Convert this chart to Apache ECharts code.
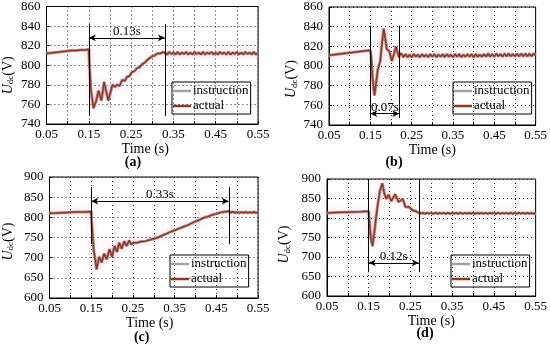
<!DOCTYPE html>
<html>
<head>
<meta charset="utf-8">
<script src="https://cdn.jsdelivr.net/npm/echarts@6/dist/echarts.min.js"></script>
<style>
html,body{margin:0;padding:0;background:#fff;}
#chart{width:550px;height:345px;}
</style>
</head>
<body>
<div id="chart"></div>
<script>
// ---------- data ----------
const xTickLabels = ['0.05','0.15','0.25','0.35','0.45','0.55'];
const yTicksAB = [740, 860, 20];   // min, max, step
const yTicksCD = [600, 900, 50];

const timeA = [0.05,0.06,0.07,0.08,0.09,0.10,0.11,0.12,0.13,0.14,0.15,
  0.151,0.155,0.161,0.167,0.173,0.180,0.186,0.196,0.206,
  0.212,0.217,0.223,0.229,0.235,0.240,0.246,0.252,0.258,0.264,
  0.270,0.276,0.283,0.290,0.299,0.306,0.312,0.319,0.326,0.330,
  0.335,0.340,0.345,0.350,0.355,0.360,0.365,0.370,0.375,0.380,
  0.385,0.390,0.395,0.400,0.405,0.410,0.415,0.420,0.425,0.430,
  0.435,0.440,0.445,0.450,0.455,0.460,0.465,0.470,0.475,0.480,
  0.485,0.490,0.495,0.500,0.505,0.510,0.515,0.520,0.525,0.530,
  0.535,0.540,0.545,0.550];
const actualA = [812,812.5,813,813.5,814,814.5,815,815,815.5,815.5,816,
  805,775,756,763,774,764,783,764,780,
  778,780,779,785,784,788,789,793,794,797,
  798,801,803,806,809,810,812,812,813.5,813,
  811,813.5,811.5,813,811,813.5,811,813,811.5,813.5,
  811,813,811,813.5,811.5,813,811,813.5,811,813,
  811.5,813.5,811,813,811,813.5,811.5,813,811,813.5,
  811,813,811.5,813.5,811,813,811,813.5,811.5,813,
  811,813.5,811,812.5];
const instructionA = actualA;

const timeB = [0.05,0.06,0.07,0.08,0.09,0.10,0.11,0.12,0.13,0.14,0.15,
  0.152,0.156,0.160,0.164,0.168,0.174,0.178,0.1825,0.186,
  0.190,0.196,0.202,0.207,0.212,0.219,0.224,0.230,
  0.235,0.240,0.245,0.250,0.255,0.260,0.265,0.270,0.275,0.280,
  0.285,0.290,0.295,0.300,0.305,0.310,0.315,0.320,0.325,0.330,
  0.335,0.340,0.345,0.350,0.355,0.360,0.365,0.370,0.375,0.380,
  0.385,0.390,0.395,0.400,0.405,0.410,0.415,0.420,0.425,0.430,
  0.435,0.440,0.445,0.450,0.455,0.460,0.465,0.470,0.475,0.480,
  0.485,0.490,0.495,0.500,0.505,0.510,0.515,0.520,0.525,0.530,
  0.535,0.540,0.545,0.550];
const actualB = [811,811.5,812,812.5,813,813.5,814,814.5,815,815.5,816,
  810,785,770,783,796,805,822,838,828,
  817,815,805,812,820,809,813,809,
  812,809,811.5,809,812,809.5,811.5,809,812,809.5,
  811.5,809,812,809.5,812,809,811.5,809.5,812,809,
  812,809.5,811.5,809,812,809.5,812,809,811.5,809.5,
  812,809.5,812,809,812,809.5,811.5,809.5,812,809.5,
  812.5,809.5,812,809.5,812.5,810,812,809.5,812.5,810,
  812.5,810,812,810,812.5,810,812.5,810,812.5,810,
  812.5,810,812.5,811];
const instructionB = actualB;

const timeC = [0.05,0.07,0.09,0.11,0.13,0.15,
  0.151,0.156,0.163,0.169,0.175,0.181,0.187,0.194,0.200,0.206,
  0.212,0.217,0.223,0.229,0.235,0.241,0.246,0.252,0.260,0.270,
  0.280,0.290,0.300,0.310,0.320,0.330,0.340,0.350,0.360,0.370,
  0.380,0.390,0.400,0.410,0.420,0.430,0.440,0.450,0.460,0.470,
  0.480,
  0.485,0.490,0.495,0.500,0.505,0.510,0.515,0.520,0.525,0.530,
  0.535,0.540,0.545,0.550];
const actualC = [810,811,812,813,813.5,814,
  790,720,671,702,688,710,696,721,702,729,
  714,737,722,741,729,743,733,737,737,740,
  741,744,747,750,755,759,764,768,772,776,
  780,785,790,794,799,802,806,809,812,814,
  815,
  812,814,811,813.5,811,813,811,813.5,811,813,
  811,813.5,811,812.5];
const instructionC = actualC;

const timeD = [0.05,0.07,0.09,0.11,0.13,0.15,
  0.151,0.155,0.159,0.1645,0.168,0.172,0.177,0.1827,0.1875,0.1922,
  0.1976,0.204,0.2135,0.2213,0.2316,0.238,0.247,0.255,0.261,0.267,
  0.275,
  0.280,0.285,0.290,0.295,0.300,0.305,0.310,0.315,0.320,0.325,
  0.330,0.335,0.340,0.345,0.350,0.355,0.360,0.365,0.370,0.375,
  0.380,0.385,0.390,0.395,0.400,0.405,0.410,0.415,0.420,0.425,
  0.430,0.435,0.440,0.445,0.450,0.455,0.460,0.465,0.470,0.475,
  0.480,0.485,0.490,0.495,0.500,0.505,0.510,0.515,0.520,0.525,
  0.530,0.535,0.540,0.545,0.550];
const actualD = [813,814,815,815.5,816,817,
  800,750,728,773,805,837,870,889,862,849,
  860,843,861,841,849,828,828,820,818,815,
  812,
  813,811,813,811.5,813,811,813.5,811,813,811.5,
  813,811,813.5,811,813,811.5,813,811,813.5,811,
  813,811.5,813,811,813.5,811,813,811.5,813,811,
  813.5,811,813,811.5,813,811,813.5,811,813,811.5,
  813,811,813.5,811,813,811.5,813,811,813.5,811,
  813,811.5,813,811,812.5];
const instructionD = actualD;

// annotation: [x start, x end], [line bottom, line top, arrow level], text
const markXA = [0.15, 0.33], markYA = [748, 842, 828], durA = '0.13s';
const markXB = [0.15, 0.22], markYB = [747, 841, 751.5], durB = '0.07s';
const markXC = [0.15, 0.48], markYC = [734, 875, 840], durC = '0.33s';
const markXD = [0.15, 0.27], markYD = [661, 900, 685], durD = '0.12s';

const captions = ['(a)', '(b)', '(c)', '(d)'];

// ---------- layout ----------
const FONT = "'Liberation Serif', 'Times New Roman', serif";
const grids = [
  {left: 43, top: 6, width: 215, height: 118},
  {left: 329, top: 7, width: 208, height: 118},
  {left: 43, top: 177, width: 215, height: 121},
  {left: 327, top: 179, width: 211, height: 117}
];
const yNameGap = [31, 30, 34, 35];
const yNameShift = [20, 26, 8, 14];
const xNameShift = [14, 0, 8, 0];
const legendPos = [[172, 82], [453, 82], [170, 255], [451, 255]];
const capPos = [[133, 162], [394, 162.7], [141.7, 337.7], [425, 333.7]];

const panels = [
  [timeA, instructionA, actualA, markXA, markYA, durA, yTicksAB],
  [timeB, instructionB, actualB, markXB, markYB, durB, yTicksAB],
  [timeC, instructionC, actualC, markXC, markYC, durC, yTicksCD],
  [timeD, instructionD, actualD, markXD, markYD, durD, yTicksCD]
];

const zip = (t, v) => t.map((x, i) => [x, v[i]]);

const option = {
  animation: false,
  textStyle: {fontFamily: FONT, color: '#000'},
  grid: grids.map(g => Object.assign({show: true, borderColor: '#000', borderWidth: 1, containLabel: false}, g)),
  xAxis: [], yAxis: [], series: [], legend: [], graphic: []
};

panels.forEach((p, i) => {
  const [time, instr, act, mx, my, dur, yt] = p;
  option.xAxis.push({
    type: 'value', gridIndex: i, min: 0.05, max: 0.55, interval: 0.05,
    name: 'Time (s)', nameLocation: 'middle', nameGap: 15,
    nameTextStyle: {fontFamily: FONT, fontSize: 14, color: '#000', padding: [0, xNameShift[i], 0, 0]},
    axisLine: {show: true, onZero: false, lineStyle: {color: '#000', width: 1}},
    axisTick: {show: true, inside: true, length: 3, lineStyle: {color: '#000'}},
    axisLabel: {
      color: '#000', fontFamily: FONT, fontSize: 13, margin: 4, showMinLabel: true, showMaxLabel: true,
      formatter: v => { const s = v.toFixed(2); return xTickLabels.includes(s) ? s : ''; }
    },
    splitLine: {show: true, lineStyle: {color: '#222', type: [1, 3], width: 1}}
  });
  option.yAxis.push({
    type: 'value', gridIndex: i, min: yt[0], max: yt[1], interval: yt[2],
    name: '{u|U}{s|dc}{v|(V)}', nameLocation: 'middle', nameRotate: 90, nameGap: yNameGap[i],
    nameTextStyle: {
      fontFamily: FONT, fontSize: 14, color: '#000', padding: [0, yNameShift[i], 0, 0],
      rich: {
        u: {fontFamily: FONT, fontSize: 14, fontStyle: 'italic', color: '#000'},
        s: {fontFamily: FONT, fontSize: 9, color: '#000', padding: [6, 0, 0, 0]},
        v: {fontFamily: FONT, fontSize: 14, color: '#000'}
      }
    },
    axisLine: {show: true, lineStyle: {color: '#000', width: 1}},
    axisTick: {show: true, inside: true, length: 3, lineStyle: {color: '#000'}},
    axisLabel: {color: '#000', fontFamily: FONT, fontSize: 13, margin: 6},
    splitLine: {show: true, lineStyle: {color: '#222', type: [1, 3], width: 1}}
  });
  option.series.push({
    name: 'instruction', type: 'line', xAxisIndex: i, yAxisIndex: i,
    data: zip(time, instr), symbol: 'none', showSymbol: false, color: '#a3a3a3',
    lineStyle: {width: 3, color: '#a3a3a3'}, z: 2, silent: true
  });
  option.series.push({
    name: 'actual', type: 'line', xAxisIndex: i, yAxisIndex: i,
    data: zip(time, act), symbol: 'none', showSymbol: false, color: '#8e3a22',
    lineStyle: {width: 1.5, color: '#8e3a22', shadowColor: 'rgba(255,90,140,0.5)', shadowBlur: 6}, z: 3, silent: true,
    markLine: {
      silent: true, animation: false, symbol: ['none', 'none'],
      lineStyle: {color: '#000', width: 1, type: 'solid'},
      label: {show: true, position: 'insideMiddleTop', distance: 0, color: '#000', fontFamily: FONT, fontSize: 13,
        formatter: q => q.dataIndex === 2 ? dur : ''},
      emphasis: {disabled: true},
      data: [
        [{coord: [mx[0], my[0]]}, {coord: [mx[0], my[1]]}],
        [{coord: [mx[1], my[0]]}, {coord: [mx[1], my[1]]}],
        [{coord: [mx[0], my[2]], symbol: 'arrow', symbolSize: [5, 7]}, {coord: [mx[1], my[2]], symbol: 'arrow', symbolSize: [5, 7]}]
      ]
    }
  });
  option.legend.push({
    orient: 'vertical', left: legendPos[i][0], top: legendPos[i][1],
    data: ['instruction', 'actual'],
    icon: 'rect', itemWidth: 18, itemHeight: 2.5, itemGap: 1,
    padding: [2, 2, 1, 1], borderColor: '#000', borderWidth: 1, backgroundColor: 'transparent',
    selectedMode: false,
    textStyle: {fontFamily: FONT, fontSize: 13, color: '#000', lineHeight: 14, padding: [0, 0, 0, -3]}
  });
  option.graphic.push({
    type: 'text', x: capPos[i][0], y: capPos[i][1], silent: true,
    style: {text: captions[i], fontFamily: FONT, fontSize: 14, fontWeight: 'bold', fill: '#000',
      textAlign: 'center', textVerticalAlign: 'middle'}
  });
});

const chart = echarts.init(document.getElementById('chart'), null, {renderer: 'canvas'});
chart.setOption(option);
</script>
</body>
</html>
